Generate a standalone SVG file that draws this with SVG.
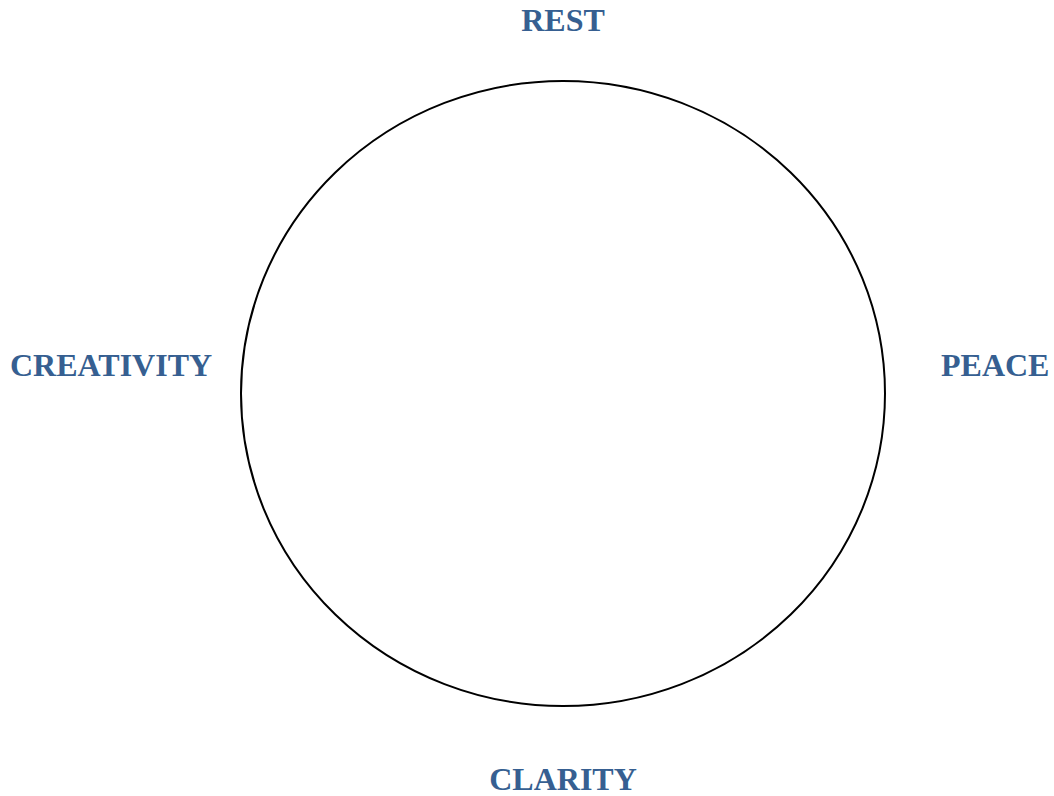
<svg xmlns="http://www.w3.org/2000/svg" width="1054" height="796" viewBox="0 0 1054 796">
  <style>
    .label { font-family: "Liberation Serif", "Times New Roman", serif; font-weight: bold; font-size: 32px; fill: #365f91; }
    .ring { fill: none; stroke: #000000; stroke-width: 2; }
  </style>
  <rect width="1054" height="796" fill="#ffffff"/>
  <g id="cycle">
    <ellipse class="ring" cx="563" cy="393.5" rx="322" ry="312.5"/>
  </g>
  <g id="rest">
    <text class="label" x="563" y="31" text-anchor="middle">REST</text>
  </g>
  <g id="peace">
    <text class="label" x="941" y="376">PEACE</text>
  </g>
  <g id="clarity">
    <text class="label" x="563" y="790" text-anchor="middle">CLARITY</text>
  </g>
  <g id="creativity">
    <text class="label" x="10" y="376">CREATIVITY</text>
  </g>
</svg>
